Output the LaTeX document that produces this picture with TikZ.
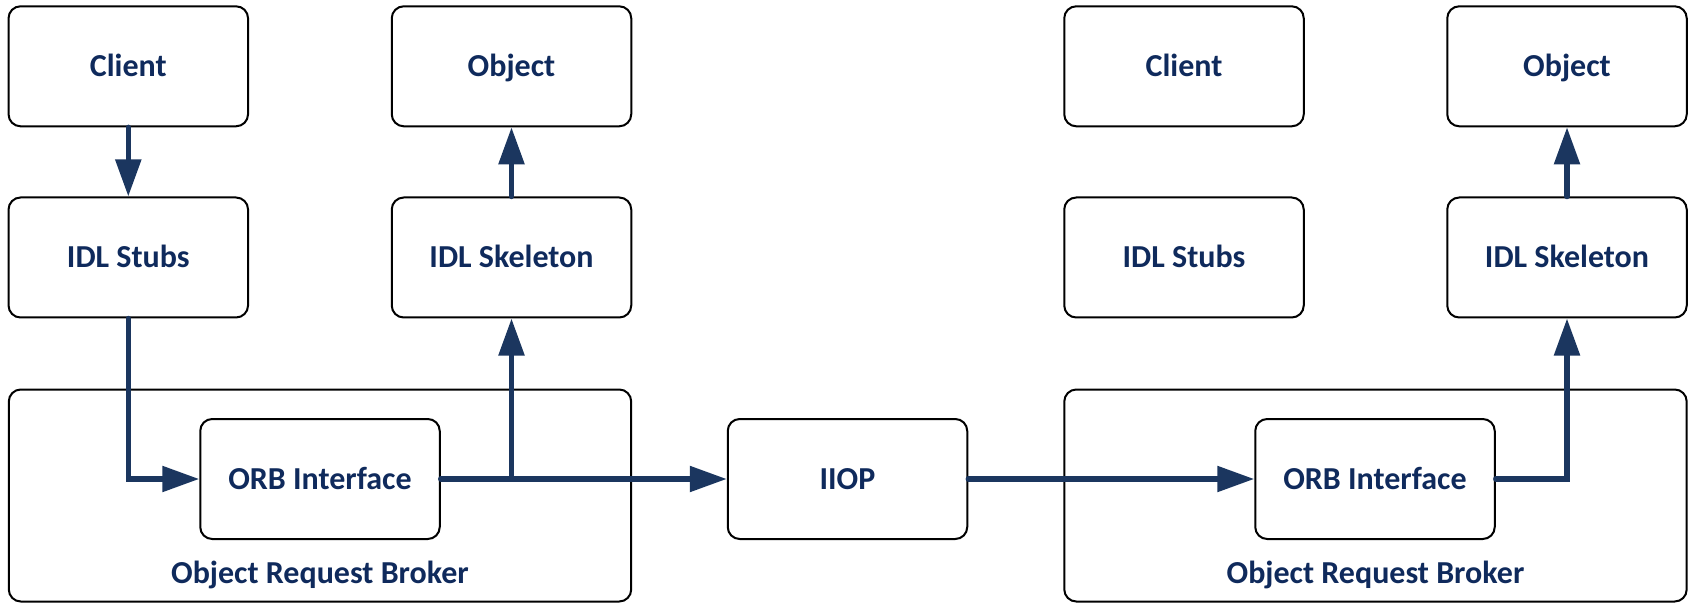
\documentclass[tikz,border=0pt]{standalone}
\usepackage{fontspec}
\setmainfont{Carlito}
\usetikzlibrary{arrows.meta}
\definecolor{navy}{HTML}{1B365F}
\definecolor{txt}{HTML}{0F2A5C}
\begin{document}
\begin{tikzpicture}[x=0.5pt,y=-0.5pt,
  box/.style={draw=black, line width=1pt, rounded corners=6pt, inner sep=0pt,
    minimum width=119.75pt, minimum height=60pt, text=txt,
    text height=10.3pt, text depth=0pt,
    font=\fontsize{16}{19}\selectfont\bfseries},
  big/.style={draw=black, line width=1pt, rounded corners=6pt, inner sep=0pt,
    minimum width=311.2pt, minimum height=106pt},
  lbl/.style={text=txt, font=\fontsize{16}{19}\selectfont\bfseries, inner sep=0pt,
    text height=10.3pt, text depth=0pt},
  conn/.style={draw=navy, line width=2.7pt, line cap=round,
    -{Triangle[length=18.5pt,width=12.5pt]}}]
\useasboundingbox (0,0) rectangle (1692,604);
% big boxes
\node[big] (orbL) at (320,495.5) {};
\node[big] (orbR) at (1375.5,495.5) {};
\node[lbl] (lblL) at (320,573) {Object Request Broker};
\node[lbl] (lblR) at (1375.5,573) {Object Request Broker};
% left side
\node[box] (cl1) at (128.3,66.3) {Client};
\node[box] (ob1) at (511.5,66.3) {Object};
\node[box] (st1) at (128.3,257.5) {IDL Stubs};
\node[box] (sk1) at (511.5,257.5) {IDL Skeleton};
\node[box] (oi1) at (320,479) {ORB Interface};
% middle
\node[box] (iiop) at (847.5,479) {IIOP};
% right side
\node[box] (cl2) at (1184,66.3) {Client};
\node[box] (ob2) at (1567,66.3) {Object};
\node[box] (st2) at (1184,257.5) {IDL Stubs};
\node[box] (sk2) at (1567,257.5) {IDL Skeleton};
\node[box] (oi2) at (1375,479) {ORB Interface};
% connectors
\coordinate (br) at (oi1.east -| sk1.south);
\draw[conn] (cl1.south) -- (st1.north);
\draw[conn] (st1.south) |- (oi1.west);
\draw[conn] (oi1.east) -- (iiop.west);
\draw[conn] (br) -- (sk1.south);
\draw[conn] (sk1.north) -- (ob1.south);
\draw[conn] (iiop.east) -- (oi2.west);
\draw[conn] (oi2.east) -| (sk2.south);
\draw[conn] (sk2.north) -- (ob2.south);
\end{tikzpicture}
\end{document}
